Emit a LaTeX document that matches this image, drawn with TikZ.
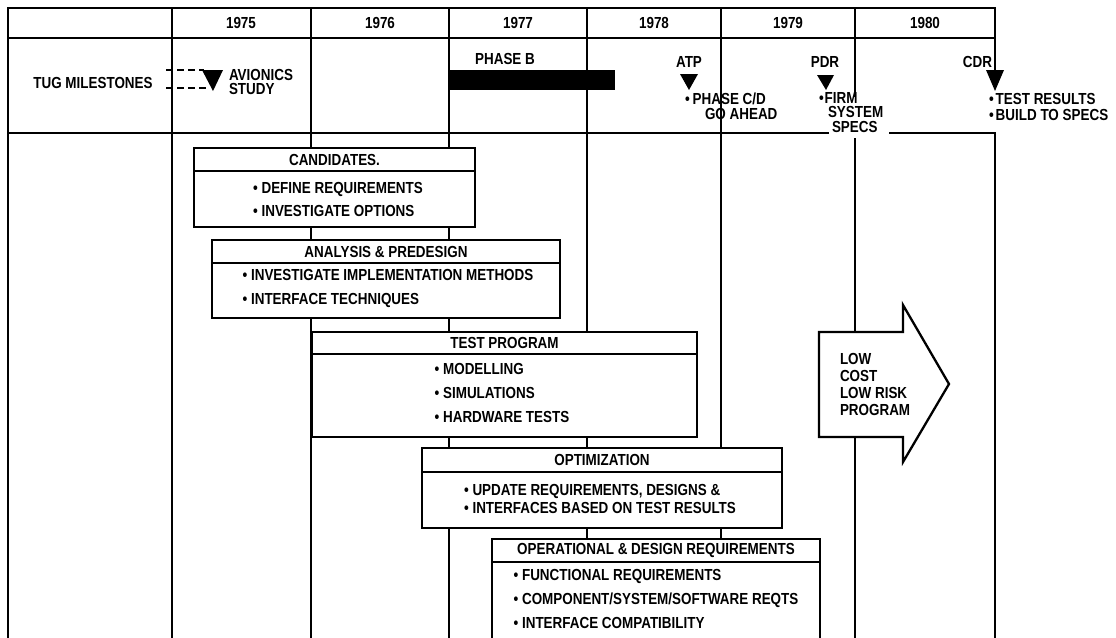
\documentclass[tikz,border=0pt]{standalone}
\usepackage{fontspec}
\newfontfamily\lbl{Liberation Sans}[FakeStretch=0.84]
\newcommand{\fsz}[1]{\lbl\bfseries\fontsize{16}{#1}\selectfont}
\begin{document}
\begin{tikzpicture}[x=1pt,y=-1pt,
  every node/.style={font=\fsz{18}, inner sep=0pt, outer sep=0pt},
  grid/.style={line width=1.8pt, line cap=rect},
  boxline/.style={draw, line width=2.3pt, fill=white, line join=miter},
  sepline/.style={line width=1.6pt},
  dashln/.style={line width=1.5pt, dash pattern=on 7pt off 4pt},
  tri/.style={fill=black},
]
\useasboundingbox (0,0) rectangle (1116,637);
\fill[white] (0,0) rectangle (1116,637);
\clip (0,0) rectangle (1116,637);

% ---- grid ----
\draw[grid] (8,8) -- (995,8);
\draw[grid] (8,38) -- (995,38);
\draw[grid] (8,133) -- (828,133);
\draw[grid] (890,133) -- (995,133);
\draw[grid] (8,8) -- (8,640);
\foreach \x in {172,311,449,587,721} \draw[grid] (\x,8) -- (\x,640);
\draw[grid] (855,8) -- (855,96);
\draw[grid] (855,139) -- (855,640);
\draw[grid] (995,8) -- (995,75);
\draw[grid] (995,133) -- (995,640);

% ---- years ----
\foreach \yr/\x in {1975/241,1976/380,1977/518,1978/654,1979/788,1980/925}
  \node (y\yr) at (\x,23) {\yr};

% ---- milestones ----
\node (tug) at (93,83) {TUG MILESTONES};
\draw[dashln] (166,70) -- (204,70);
\draw[dashln] (166,88) -- (208,88);
\fill[tri] (202,70) -- (223,70) -- (213,91) -- cycle;
\node[anchor=west, align=left, font=\fsz{14.5}] (avi) at (229,82) {AVIONICS\\STUDY};

\node (phb) at (505,59) {PHASE B};
\node[fill=black, minimum width=166, minimum height=20, anchor=north west] (phbar) at (449,70) {};

\node (atp) at (689,62) {ATP};
\fill[tri] (680,74) -- (698,74) -- (689,90) -- cycle;
\node[anchor=north west, align=left, font=\fsz{15}] (atpt) at (685,93)
  {\textbullet\kern3pt PHASE C/D\\\hspace*{20pt}GO AHEAD};

\node (pdr) at (825,62) {PDR};
\fill[tri] (817,75) -- (834,75) -- (826,90) -- cycle;
\node[anchor=north west, align=left, font=\fsz{14.5}] (pdrt) at (819,92)
  {\textbullet\kern1pt FIRM\\\hspace*{9pt}SYSTEM\\\hspace*{13pt}SPECS};

\node[anchor=east] (cdr) at (992,62) {CDR};
\fill[tri] (986,70) -- (1004,70) -- (995,91) -- cycle;
\node[anchor=north west, align=left, font=\fsz{16.5}] (cdrt) at (989,93)
  {\textbullet\kern2pt TEST RESULTS\\\textbullet\kern2pt BUILD TO SPECS};

% ---- boxes ----
% Candidates
\node[boxline, minimum width=281, minimum height=79, anchor=north west] (cand) at (194,148) {};
\node[minimum height=23, anchor=north] (candT) at (cand.north) {CANDIDATES.};
\draw[sepline] (cand.west |- candT.south) -- (cand.east |- candT.south);
\node[align=left, font=\fsz{23}] (candB) at (338,199)
  {\textbullet\ DEFINE REQUIREMENTS\\\textbullet\ INVESTIGATE OPTIONS};

% Analysis
\node[boxline, minimum width=348, minimum height=78, anchor=north west] (ana) at (212,240) {};
\node[minimum height=23, anchor=north] (anaT) at (ana.north) {ANALYSIS \& PREDESIGN};
\draw[sepline] (ana.west |- anaT.south) -- (ana.east |- anaT.south);
\node[align=left, font=\fsz{24}] (anaB) at (388,288)
  {\textbullet\ INVESTIGATE IMPLEMENTATION METHODS\\\textbullet\ INTERFACE TECHNIQUES};

% Test program
\node[boxline, minimum width=385, minimum height=105, anchor=north west] (tst) at (312,332) {};
\node[minimum height=22, anchor=north] (tstT) at (tst.north) {TEST PROGRAM};
\draw[sepline] (tst.west |- tstT.south) -- (tst.east |- tstT.south);
\node[align=left, font=\fsz{24}] (tstB) at (502,393)
  {\textbullet\ MODELLING\\\textbullet\ SIMULATIONS\\\textbullet\ HARDWARE TESTS};

% Optimization
\node[boxline, minimum width=360, minimum height=80, anchor=north west] (opt) at (422,448) {};
\node[minimum height=24, anchor=north] (optT) at (opt.north) {OPTIMIZATION};
\draw[sepline] (opt.west |- optT.south) -- (opt.east |- optT.south);
\node[align=left, font=\fsz{18}] (optB) at (600,499)
  {\textbullet\ UPDATE REQUIREMENTS, DESIGNS \&\\\textbullet\ INTERFACES BASED ON TEST RESULTS};

% Operational
\node[boxline, minimum width=328, minimum height=112, anchor=north west] (opr) at (492,539) {};
\node[minimum height=23, anchor=north] (oprT) at (opr.north) {OPERATIONAL \& DESIGN REQUIREMENTS};
\draw[sepline] (opr.west |- oprT.south) -- (opr.east |- oprT.south);
\node[align=left, font=\fsz{24}] (oprB) at (656,599)
  {\textbullet\ FUNCTIONAL REQUIREMENTS\\\textbullet\ COMPONENT/SYSTEM/SOFTWARE REQTS\\\textbullet\ INTERFACE COMPATIBILITY};

% ---- arrow ----
\draw[boxline] (819,332) -- (903,332) -- (903,305) -- (949,384) -- (903,462) -- (903,437) -- (819,437) -- cycle;
\node[align=left, anchor=west, font=\fsz{17}] (lowc) at (840,384) {LOW\\COST\\LOW RISK\\PROGRAM};
\end{tikzpicture}
\end{document}
